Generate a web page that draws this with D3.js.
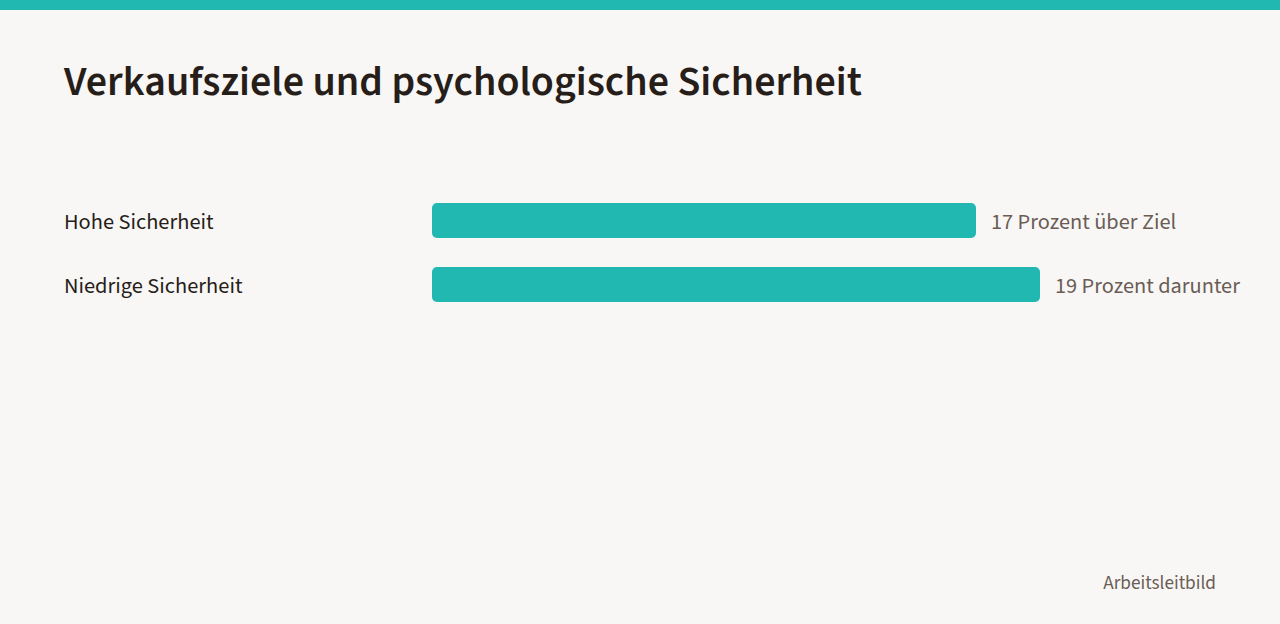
<!DOCTYPE html>
<html>
<head>
<meta charset="utf-8">
<script src="https://cdn.jsdelivr.net/npm/d3@7"></script>
<style>
	html, body { margin: 0; padding: 0; background: #f8f7f5; }
	svg { display: block; font-family: "Source Sans 3", "Source Sans Pro", Lato, "Noto Sans", sans-serif; }
</style>
</head>
<body>
<svg id="chart" width="1280" height="624"></svg>
<script>
'use strict';
// chart data
var categories = ["Hohe Sicherheit", "Niedrige Sicherheit"];
var values = [17, 19];
var valueLabels = ["17 Prozent über Ziel", "19 Prozent darunter"];
var title = "Verkaufsziele und psychologische Sicherheit";
var source = "Arbeitsleitbild";

function drawChart(svgName) {
	let svg = d3.select(svgName);
	let width = +svg.attr("width");

	svg.append("rect")
		.attr("x", 0).attr("y", 0)
		.attr("width", width).attr("height", 624)
		.attr("fill", "#f8f7f5");

	// top stripe
	svg.append("rect")
		.attr("x", 0).attr("y", 0)
		.attr("width", width).attr("height", 10)
		.attr("fill", "#20b8b1");

	svg.append("text")
		.attr("x", 64).attr("y", 95)
		.attr("fill", "#271e19")
		.attr("font-size", 42)
		.attr("font-weight", 600)
		.text(title);

	let x = d3.scaleLinear()
		.domain([0, d3.max(values)])
		.range([432, 1040]);

	let y = d3.scaleBand()
		.domain(categories)
		.range([188.5, 316.5])
		.paddingInner(0.453)
		.paddingOuter(0.2265);

	let data = categories.map(function (c, i) {
		return {name: c, value: values[i], label: valueLabels[i]};
	});

	let rows = svg.selectAll(".row")
		.data(data)
		.enter().append("g")
		.attr("class", "row");

	rows.append("text")
		.attr("x", 64)
		.attr("y", function (d) { return y(d.name) + y.bandwidth() / 2; })
		.attr("dy", "0.4em")
		.attr("fill", "#271e19")
		.attr("font-size", 22.4)
		.text(function (d) { return d.name; });

	rows.append("rect")
		.attr("class", "bar")
		.attr("x", x(0))
		.attr("y", function (d) { return y(d.name); })
		.attr("width", function (d) { return x(d.value) - x(0); })
		.attr("height", y.bandwidth())
		.attr("rx", 5)
		.attr("fill", "#20b8b1");

	rows.append("text")
		.attr("x", function (d) { return x(d.value) + 15; })
		.attr("y", function (d) { return y(d.name) + y.bandwidth() / 2; })
		.attr("dy", "0.4em")
		.attr("fill", "#6b5d55")
		.attr("font-size", 22.3)
		.text(function (d) { return d.label; });

	svg.append("text")
		.attr("x", 1216).attr("y", 589)
		.attr("text-anchor", "end")
		.attr("fill", "#6b5d55")
		.attr("font-size", 19.2)
		.text(source);
}

drawChart("#chart");
</script>
</body>
</html>
